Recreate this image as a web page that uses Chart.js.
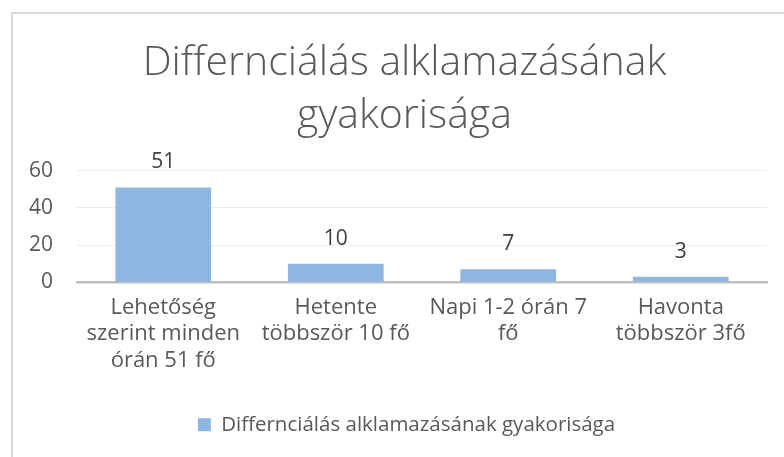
<!DOCTYPE html>
<html>
<head>
<meta charset="utf-8">
<script src="https://cdn.jsdelivr.net/npm/chart.js@4/dist/chart.umd.min.js"></script>
<style>
  body { margin: 0; background: #fff; }
  #frame { position: absolute; left: 11px; top: 12px; width: 800px; height: 460px;
           border-left: 2px solid #d9d9d9; border-top: 2px solid #d9d9d9; }
  #wrap { position: absolute; left: 0; top: 0; width: 784px; height: 457px; }
</style>
</head>
<body>
<div id="frame"></div>
<div id="wrap"><canvas id="myChart" width="784" height="457"></canvas></div>
<script>
// # Data
const categories = [
  ["Lehetőség", "szerint minden", "órán 51 fő"],
  ["Hetente", "többször 10 fő"],
  ["Napi 1-2 órán 7", "fő"],
  ["Havonta", "többször 3fő"],
];
const values = [51, 10, 7, 3];
const seriesName = "Differnciálás alklamazásának gyakorisága";
const titleLines = ["Differnciálás alklamazásának", "gyakorisága"];
const yTicks = [0, 20, 40, 60];

const font = "'Open Sans', 'Noto Sans', sans-serif";

// # Value labels above the bars
const barLabels = {
  id: "barLabels",
  afterDatasetsDraw(chart) {
    const ctx = chart.ctx;
    const meta = chart.getDatasetMeta(0);
    ctx.save();
    ctx.font = "21px " + font;
    ctx.fillStyle = "#404040";
    ctx.textAlign = "center";
    ctx.textBaseline = "middle";
    meta.data.forEach((bar, i) => {
      ctx.fillText(values[i], bar.x, bar.y - 25);
    });
    ctx.restore();
  },
};

// # Title and legend sit a bit to the right, centred on the framed area
const blockShift = {
  id: "blockShift",
  afterLayout(chart) {
    chart.legend.left += 13;
    chart.legend.right += 13;
    chart.titleBlock.left += 11;
    chart.titleBlock.right += 11;
  },
};

const chart = document.getElementById("myChart");

new Chart(chart, {
  type: "bar",
  data: {
    labels: categories,
    datasets: [
      {
        label: seriesName,
        data: values,
        backgroundColor: "#8db6e1",
        categoryPercentage: 1,
        barPercentage: 0.555,
      },
    ],
  },
  plugins: [barLabels, blockShift],
  options: {
    responsive: false,
    animation: false,
    layout: { padding: { left: 20, right: 17, top: 37, bottom: 12 } },
    plugins: {
      title: {
        display: true,
        text: titleLines,
        color: "#595959",
        font: { family: font, size: 41, weight: "300", lineHeight: 1.29 },
        padding: { top: 0, bottom: 28 },
      },
      legend: {
        position: "bottom",
        labels: {
          color: "#595959",
          font: { family: font, size: 20.5 },
          boxWidth: 13,
          boxHeight: 13,
          padding: 10,
        },
      },
      tooltip: { enabled: false },
    },
    scales: {
      x: {
        grid: { display: false },
        border: { color: "#bfbfbf", width: 2.5 },
        afterFit(axis) {
          axis.height += 27;
        },
        ticks: {
          color: "#595959",
          font: { family: font, size: 22, lineHeight: 1.2 },
          maxRotation: 0,
          autoSkip: false,
          padding: 4,
        },
      },
      y: {
        min: 0,
        max: 60,
        afterBuildTicks(axis) {
          axis.ticks = yTicks.map((v) => ({ value: v }));
        },
        afterFit(axis) {
          axis.width = 57;
        },
        grid: { color: "#ebebeb", drawTicks: false },
        border: { display: false },
        ticks: {
          color: "#595959",
          font: { family: font, size: 21 },
          padding: 24,
        },
      },
    },
  },
});
</script>
</body>
</html>
